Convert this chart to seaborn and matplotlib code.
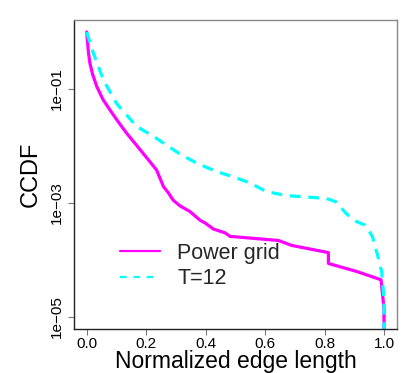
import numpy as np
import pandas as pd
import matplotlib
matplotlib.use("Agg")
import matplotlib.pyplot as plt
import seaborn as sns
from matplotlib.lines import Line2D
from matplotlib.ticker import FixedLocator, FixedFormatter, NullLocator

# CCDF of normalized edge length
pg_x = [0.0, 0.003, 0.006, 0.011, 0.02, 0.034, 0.055, 0.078, 0.105, 0.135, 0.19, 0.235,
        0.258, 0.275, 0.291, 0.314, 0.347, 0.381, 0.40, 0.426, 0.465, 0.482, 0.645,
        0.69, 0.813, 0.813, 0.908, 0.99, 0.995, 1.0, 1.0]
pg_y = [1.0, 0.65, 0.43, 0.28, 0.18, 0.11, 0.065, 0.043, 0.027, 0.0166, 0.0074, 0.0038,
        0.00195, 0.0015, 0.00112, 0.00089, 0.00071, 0.0005, 0.00044, 0.00035, 0.0003,
        0.00026, 0.00022, 0.00018, 0.000135, 8.7e-5, 6.3e-5, 4.5e-5, 2.5e-5, 1.4e-5, 5e-6]

t12_x = [0.0, 0.022, 0.056, 0.1, 0.168, 0.224, 0.314, 0.37, 0.437, 0.493, 0.55,
         0.605, 0.673, 0.807, 0.838, 0.872, 0.908, 0.936, 0.961, 0.978, 0.992, 1.0, 1.0]
t12_y = [1.0, 0.43, 0.145, 0.056, 0.022, 0.0148, 0.0072, 0.005, 0.00355, 0.00288, 0.00224,
         0.00158, 0.00135, 0.0012, 0.00105, 0.00066, 0.00047, 0.00041, 0.00026, 0.000123,
         6.3e-5, 2.1e-5, 5e-6]

labels = ["Power grid", "T=12"]
colors = ["#ff00ff", "#00ffff"]

df = pd.concat([
    pd.DataFrame({"x": pg_x, "y": pg_y, "serie": labels[0]}),
    pd.DataFrame({"x": t12_x, "y": t12_y, "serie": labels[1]}),
], ignore_index=True)

sns.set_theme(style="white")
plt.rcParams["font.family"] = ["Liberation Sans", "DejaVu Sans"]

fig = plt.figure(figsize=(4.07, 3.73), dpi=100)
ax = fig.add_axes([74 / 407, 1 - 329 / 373, (397 - 74) / 407, (329 - 20) / 373])

for lab, col in zip(labels, colors):
    sub = df[df["serie"] == lab]
    sns.lineplot(data=sub, x="x", y="y", color=col, linewidth=2.3,
                 sort=False, estimator=None, ax=ax)
ax.lines[1].set_dashes((3.4, 2.4))

ax.set_yscale("log")
ax.set_xlim(-0.0427, 1.0437)
ax.set_ylim(10 ** -5.21, 10 ** 0.21)

ax.xaxis.set_major_locator(FixedLocator([0, 0.2, 0.4, 0.6, 0.8, 1.0]))
ax.xaxis.set_major_formatter(FixedFormatter(["0.0", "0.2", "0.4", "0.6", "0.8", "1.0"]))
ax.yaxis.set_major_locator(FixedLocator([1e-1, 1e-3, 1e-5]))
ax.yaxis.set_major_formatter(FixedFormatter(["1e\u221201", "1e\u221203", "1e\u221205"]))
ax.yaxis.set_minor_locator(NullLocator())

ax.tick_params(axis="both", which="major", direction="out", length=4.5, width=0.8,
               color="#777777", labelsize=11, labelcolor="black", pad=1.5,
               bottom=True, left=True)
ax.tick_params(axis="y", pad=3)
for t in ax.get_yticklabels():
    t.set_rotation(90)
    t.set_va("center")

for s in ["left", "bottom"]:
    ax.spines[s].set_color("#222222")
    ax.spines[s].set_linewidth(1.0)
for s in ["top", "right"]:
    ax.spines[s].set_color("#888888")
    ax.spines[s].set_linewidth(1.0)

ax.set_xlabel("Normalized edge length", fontsize=16.5, color="black")
ax.set_ylabel("CCDF", fontsize=17, color="black")
ax.xaxis.set_label_coords(0.5, -0.068)
ax.yaxis.set_label_coords(-0.10, 0.5)

handles = [Line2D([], [], color=colors[0], linewidth=1.6),
           Line2D([], [], color=colors[1], linewidth=1.6, dashes=(3, 3))]
ax.legend(handles, labels, loc="center left", bbox_to_anchor=(120 / 407, 1 - 266 / 373),
          bbox_transform=fig.transFigure, frameon=False, fontsize=15.5,
          handlelength=1.85, handletextpad=0.8, labelspacing=0.2, borderpad=0,
          borderaxespad=0)

fig.savefig("out.png", dpi=100, facecolor="white")
